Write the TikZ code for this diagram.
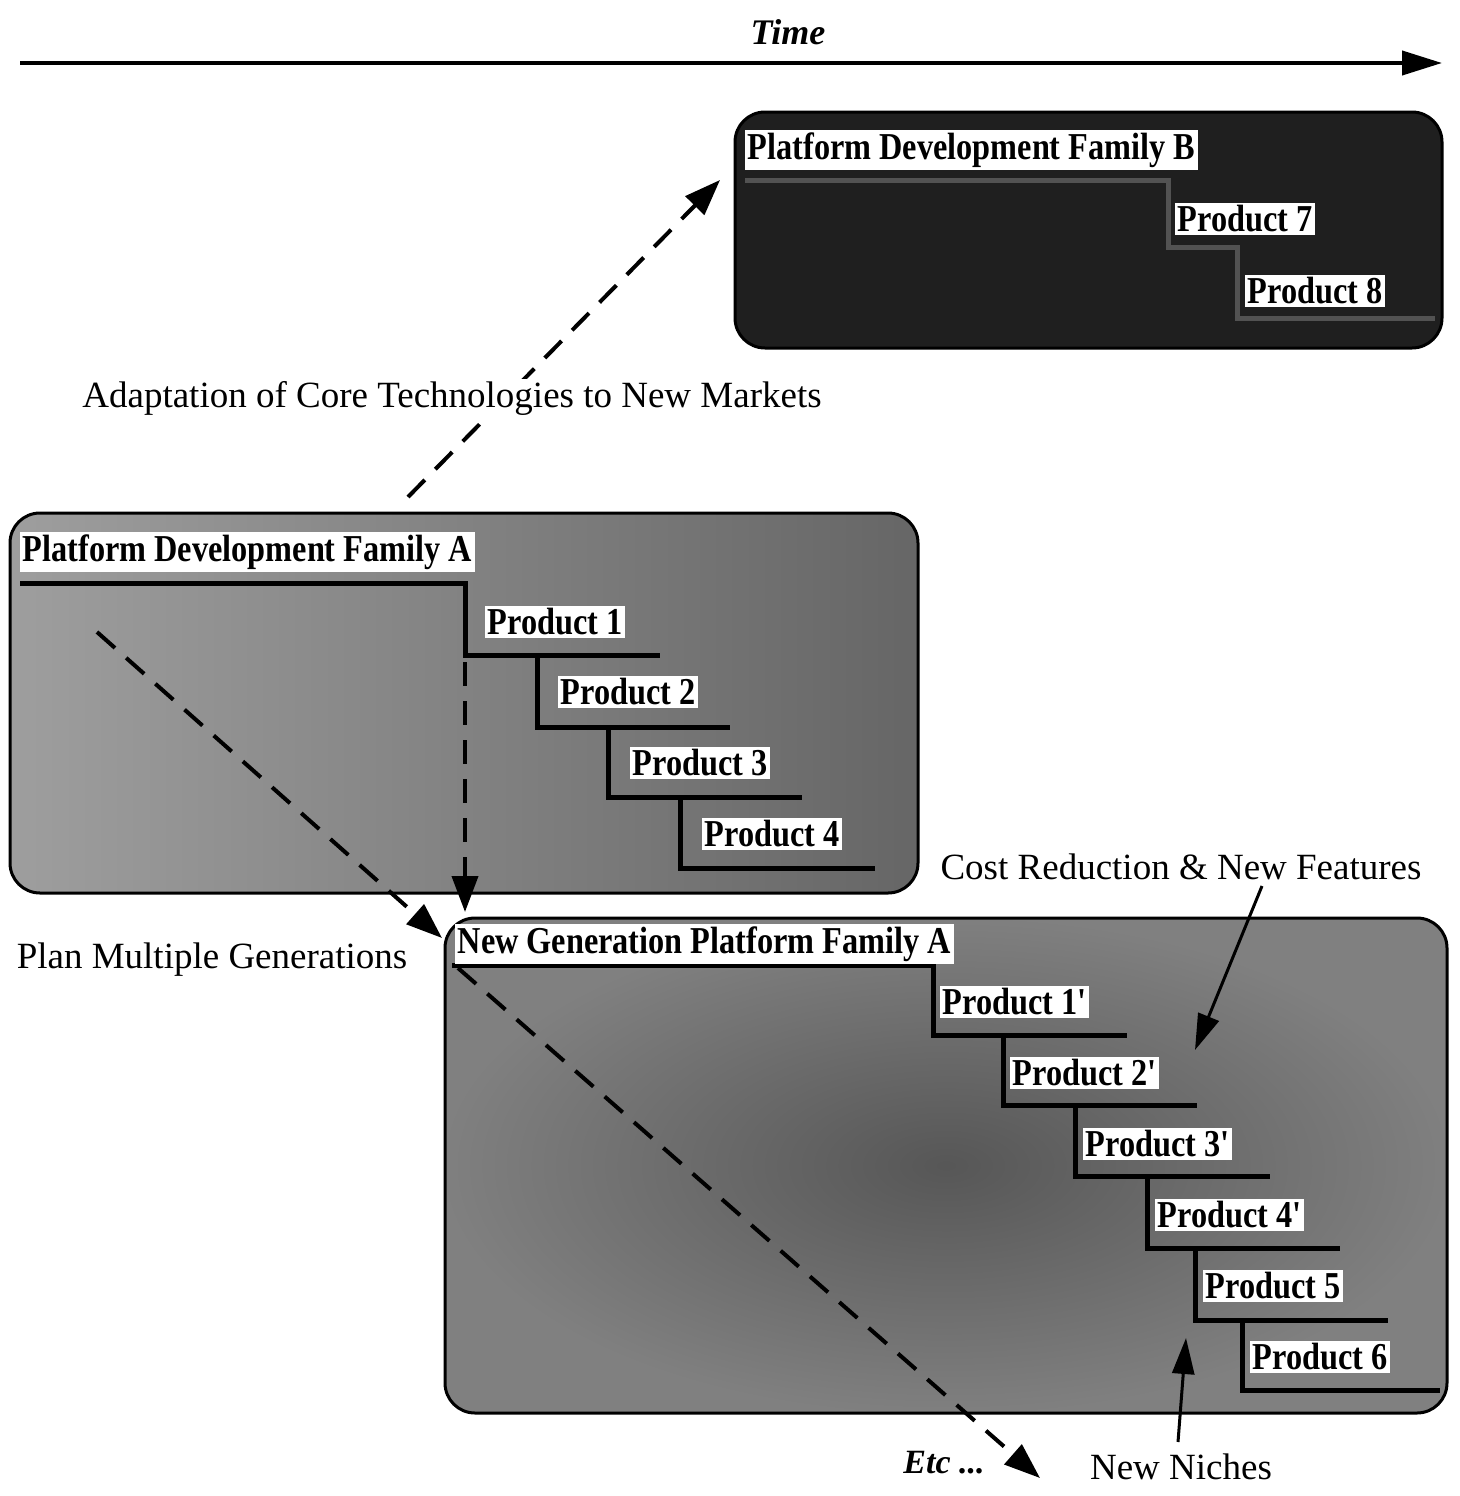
\documentclass[tikz,border=0pt]{standalone}
\usepackage{fontspec}
\setmainfont{Liberation Serif}
\newfontfamily\condfont[FakeStretch=0.85]{Liberation Serif}
\usetikzlibrary{arrows.meta}
\begin{document}
\begin{tikzpicture}[x=1pt,y=-1pt,
  frame/.style={draw=black, line width=3pt, rounded corners=30pt},
  prodlbl/.style={fill=white, inner sep=2.5pt, anchor=west, font=\condfont\bfseries\fontsize{38}{40}\selectfont},
  plainlbl/.style={inner sep=2pt, font=\fontsize{37}{40}\selectfont},
  steppath/.style={line width=5pt, line join=miter},
  dashedarrow/.style={line width=4pt, dash pattern=on 24pt off 15pt, -{Triangle[length=36pt,width=26pt]}},
  solidarrow/.style={line width=3pt, -{Triangle[length=36pt,width=22pt]}}
]
\fill[white] (0,0) rectangle (1459,1496);
\useasboundingbox (0,0) rectangle (1459,1496);

% Time axis
\coordinate (t0) at (20,63);
\coordinate (t1) at (1442,63);
\draw[line width=4pt, -{Triangle[length=40pt,width=24pt]}] (t0) -- (t1);
\node[inner sep=0pt, font=\bfseries\itshape\fontsize{36}{40}\selectfont] (time) at (788,32) {Time};

% Box B
\path[frame, fill=black!88] (735,112) rectangle (1442,348);
\draw[steppath, draw=black!68] (745,180) -- (1168,180) -- (1168,247) -- (1237,247) -- (1237,318) -- (1435,318);
\node[prodlbl] (titleB) at (745,150) {Platform Development Family B};
\node[prodlbl] (p7) at (1175,219) {Product 7};
\node[prodlbl] (p8) at (1245,291) {Product 8};

% Box A
\path[frame, left color=black!38, right color=black!60] (10,513) rectangle (918,893);
\draw[steppath] (20,583) -- (465,583) -- (465,655) -- (660,655);
\draw[steppath] (537,655) -- (537,727) -- (730,727);
\draw[steppath] (608,727) -- (608,797) -- (802,797);
\draw[steppath] (680,797) -- (680,868) -- (875,868);
\node[prodlbl] (titleA) at (20,552) {Platform Development Family A};
\node[prodlbl] (p1) at (485,622) {Product 1};
\node[prodlbl] (p2) at (558,692) {Product 2};
\node[prodlbl] (p3) at (630,763) {Product 3};
\node[prodlbl] (p4) at (702,834) {Product 4};

% Box New Generation
\path[frame, inner color=black!66, outer color=black!50] (445,918) rectangle (1447,1413);
\draw[steppath] (452,965) -- (933,965) -- (933,1035) -- (1127,1035);
\draw[steppath] (1003,1035) -- (1003,1105) -- (1197,1105);
\draw[steppath] (1075,1105) -- (1075,1176) -- (1270,1176);
\draw[steppath] (1147,1176) -- (1147,1248) -- (1340,1248);
\draw[steppath] (1195,1248) -- (1195,1320) -- (1388,1320);
\draw[steppath] (1242,1320) -- (1242,1390) -- (1440,1390);
\node[prodlbl] (titleN) at (455,944) {New Generation Platform Family A};
\node[prodlbl] (q1) at (940,1002) {Product 1'};
\node[prodlbl] (q2) at (1010,1073) {Product 2'};
\node[prodlbl] (q3) at (1083,1144) {Product 3'};
\node[prodlbl] (q4) at (1155,1215) {Product 4'};
\node[prodlbl] (q5) at (1203,1286) {Product 5};
\node[prodlbl] (q6) at (1250,1357) {Product 6};

% Dashed arrows
\coordinate (ad0) at (408,497);
\coordinate (ad1) at (720,180);
\draw[dashedarrow] (ad0) -- (ad1);
\coordinate (v0) at (465,662);
\coordinate (v1) at (465,912);
\draw[dashedarrow] (v0) -- (v1);
\coordinate (d0) at (97,632);
\coordinate (d1) at (442,938);
\draw[dashedarrow] (d0) -- (d1);
\coordinate (e0) at (458,968);
\coordinate (e1) at (1040,1478);
\draw[dashedarrow] (e0) -- (e1);

% Plain labels
\node[plainlbl, fill=white] (adapt) at (452,398) {Adaptation of Core Technologies to New Markets};
\node[plainlbl] (plan) at (212,960) {Plan Multiple Generations};
\node[plainlbl] (cost) at (1181,867) {Cost Reduction \& New Features};
\node[plainlbl] (niches) at (1181,1467) {New Niches};
\node[inner sep=0pt, font=\bfseries\itshape\fontsize{34}{40}\selectfont] (etc) at (944,1463) {Etc ...};

% Solid arrows
\coordinate (c0) at (1262,886);
\coordinate (c1) at (1195,1050);
\draw[solidarrow] (c0) -- (c1);
\coordinate (n0) at (1178,1442);
\coordinate (n1) at (1186,1338);
\draw[solidarrow] (n0) -- (n1);
\end{tikzpicture}
\end{document}
